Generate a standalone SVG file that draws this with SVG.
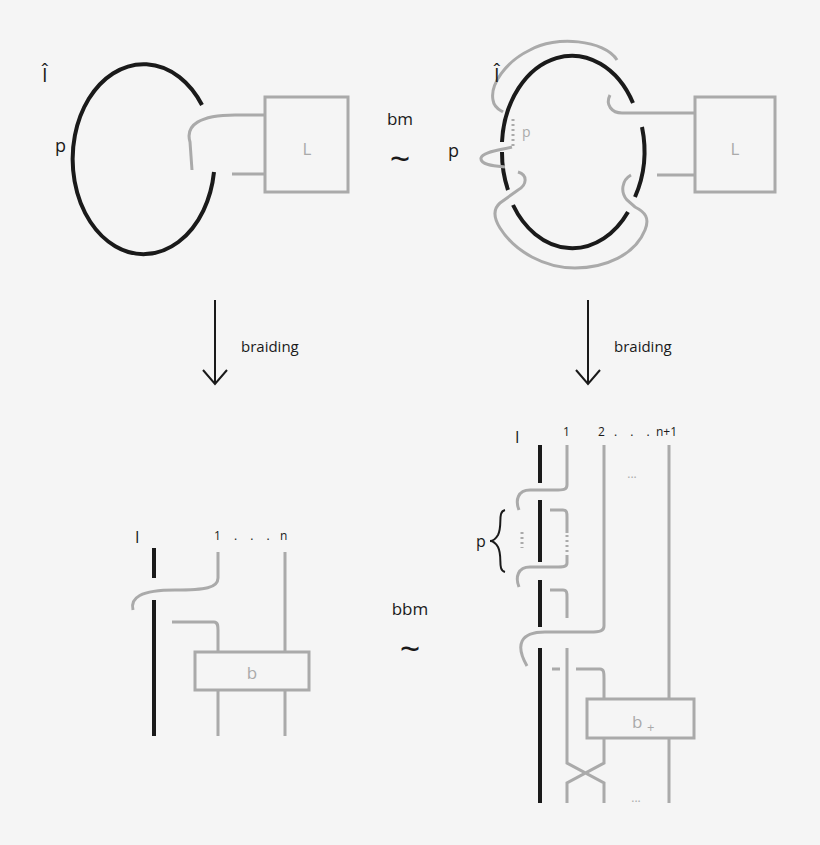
<svg xmlns="http://www.w3.org/2000/svg" width="820" height="845" viewBox="0 0 820 845">
<style>
.k{fill:none;stroke:#1a1a1a;stroke-width:4}
.g{fill:none;stroke:#aaaaaa;stroke-width:3}
.d{fill:none;stroke:#aaaaaa;stroke-width:3;stroke-dasharray:2 3}
.bx{fill:#f5f5f5;stroke:#aaaaaa;stroke-width:3}
.t{font-family:"Open Sans","Liberation Sans",sans-serif;fill:#1a1a1a}
.tg{font-family:"Open Sans","Liberation Sans",sans-serif;fill:#aaaaaa}
.a{fill:none;stroke:#1a1a1a;stroke-width:2}
</style>
<rect width="820" height="845" fill="#f5f5f5"/>
<g id="topleft">
<path class="k" d="M202,105 A71,95 0 1 0 214,172"/>
<path class="g" d="M265,115 H235 C200,115 185,125 190,142 L192,170"/>
<path class="g" d="M232,174 H265"/>
<rect class="bx" x="265" y="97" width="83" height="95"/>
<text class="tg" x="307" y="155" font-size="17" text-anchor="middle">L</text>
<text class="t" x="42" y="82" font-size="20">Î</text>
<text class="t" x="55" y="152" font-size="18">p</text>
</g>
<g id="topright">
<path class="k" d="M633,103 A70,92 0 0 0 502,142"/>
<path class="k" d="M502,152 A70,92 0 0 0 508,190"/>
<path class="k" d="M513,205 A70,92 0 0 0 628,212"/>
<path class="k" d="M635,197 A70,92 0 0 0 642,127"/>
<path class="g" d="M617,60 C605,40 555,35 530,50 C505,62 490,85 493,100 C494,108 500,110 503,112"/>
<path class="g" d="M610,95 C605,105 612,113 622,113 H695"/>
<path class="g" d="M657,175 H695"/>
<rect class="bx" x="695" y="97" width="80" height="95"/>
<text class="tg" x="735" y="155" font-size="17" text-anchor="middle">L</text>
<path class="g" d="M512,147 C500,150 482,152 481,158 C480,165 495,166 505,167"/>
<path class="d" d="M513,119 V146"/>
<text class="tg" x="522" y="137" font-size="14">p</text>
<path class="g" d="M518,172 C528,175 527,185 518,190 L500,203 C492,210 495,220 500,228 C515,252 545,268 575,268 C605,268 635,255 645,230 C650,218 645,212 635,207 L627,200 C620,192 622,180 631,175"/>
<text class="t" x="448" y="157" font-size="18">p</text>
<text class="t" x="494" y="82" font-size="20">Î</text>
</g>
<g id="mid-labels">
<text class="t" x="400" y="125" font-size="17" text-anchor="middle">bm</text>
<text class="t" x="400" y="172" font-size="36" text-anchor="middle">~</text>
<text class="t" x="410" y="615" font-size="17" text-anchor="middle">bbm</text>
<text class="t" x="410" y="662" font-size="36" text-anchor="middle">~</text>
<text class="t" x="241" y="352" font-size="15">braiding</text>
<text class="t" x="614" y="352" font-size="15">braiding</text>
</g>
<g id="connectors">
<path class="a" d="M215,300 V383 M203,370 L215,384 L227,370"/>
<path class="a" d="M588,300 V383 M576,370 L588,384 L600,370"/>
</g>
<g id="bottomleft">
<path class="k" d="M154,548 V578 M154,600 V736"/>
<path class="g" d="M218,552 V578 C218,588 205,590 175,590 C140,590 130,598 133,610"/>
<path class="g" d="M172,622 H214 C218,622 218,626 218,630 V652"/>
<path class="g" d="M285,552 V652 M218,690 V736 M285,690 V736"/>
<rect class="bx" x="195" y="652" width="114" height="38"/>
<text class="tg" x="252" y="679" font-size="17" text-anchor="middle">b</text>
<text class="t" x="135" y="543" font-size="16">I</text>
<text class="t" x="214" y="540" font-size="12">1</text>
<text class="t" x="234" y="540" font-size="12" letter-spacing="5">. . .</text>
<text class="t" x="280" y="540" font-size="12">n</text>
</g>
<g id="bottomright">
<path class="k" d="M540,445 V483 M540,500 V562 M540,580 V627 M540,648 V803"/>
<path class="g" d="M567,445 V485 C567,490 563,490 555,490 H530 C518,490 515,500 519,510"/>
<path class="g" d="M550,510 H563 C567,510 567,513 567,517 V533"/>
<path class="d" d="M567,535 V556"/>
<path class="g" d="M567,556 V563 C567,567 563,567 555,567 H530 C518,567 515,577 519,587"/>
<path class="g" d="M550,590 H563 C567,590 567,593 567,597 V618"/>
<path class="g" d="M604,445 V626 C604,631 600,632 590,632 H545 C520,632 515,645 527,666"/>
<path class="g" d="M552,669 H560 M576,669 H600 C604,669 604,673 604,678 V699"/>
<path class="g" d="M567,648 V763 L604,783 V803 M604,738 V763 L567,783 V803"/>
<path class="g" d="M669,445 V803"/>
<rect class="bx" x="587" y="699" width="107" height="39"/>
<text class="tg" x="632" y="728" font-size="17">b</text>
<text class="tg" x="647" y="732" font-size="13">+</text>
<text class="tg" x="632" y="478" font-size="12" text-anchor="middle">...</text>
<text class="tg" x="636" y="802" font-size="12" text-anchor="middle">...</text>
<path class="d" d="M522,532 V548"/>
<path class="a" stroke-width="1.3" d="M505,510 C497,512 503,525 498,535 C495,540 492,541 490,541 C492,541 495,542 498,547 C503,557 497,570 505,572"/>
<text class="t" x="476" y="547" font-size="16">p</text>
<text class="t" x="515" y="443" font-size="16">I</text>
<text class="t" x="563" y="436" font-size="12">1</text>
<text class="t" x="598" y="436" font-size="12">2</text>
<text class="t" x="614" y="436" font-size="12" letter-spacing="5">. . .</text>
<text class="t" x="656" y="436" font-size="12">n+1</text>
</g>
</svg>
